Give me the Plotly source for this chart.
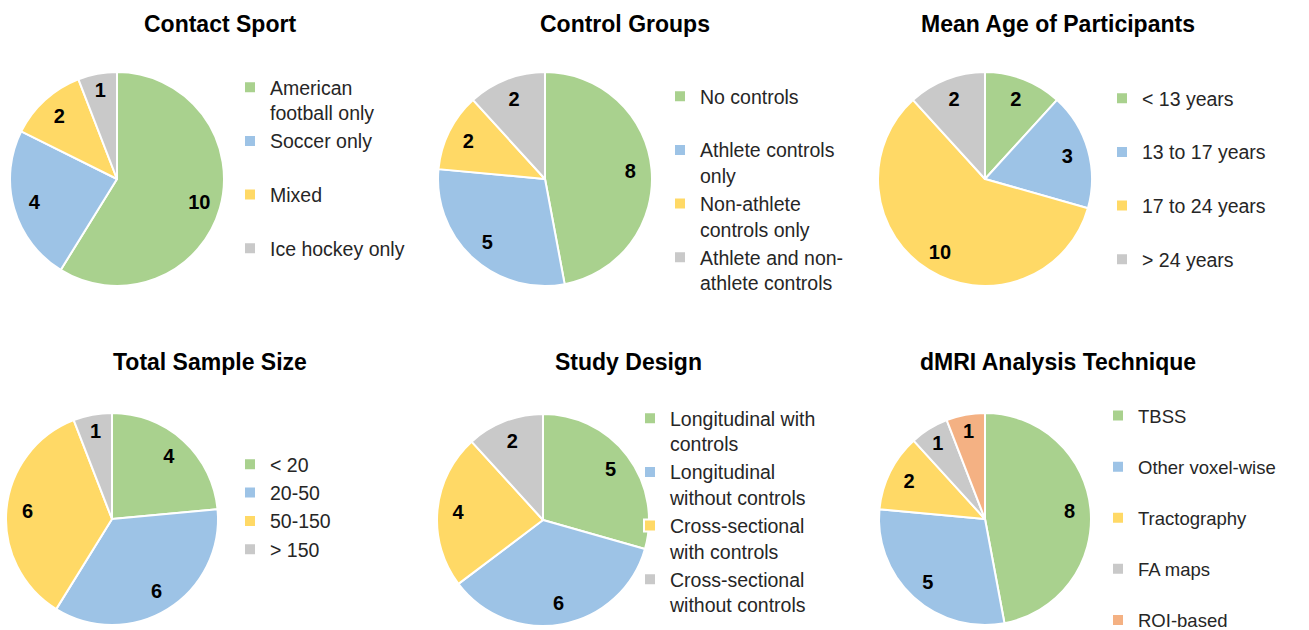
import plotly.graph_objects as go

W, H = 1309, 630

GREEN, BLUE, YELLOW, GRAY, ORANGE = "#A9D18E", "#9DC3E6", "#FFD966", "#C9C9C9", "#F4B183"

# ---- data ----
contact_labels = ["American<br>football only", "Soccer only<br> ", "Mixed<br> ", "Ice hockey only"]
contact_values = [10, 4, 2, 1]

control_labels = ["No controls<br> ", "Athlete controls<br>only", "Non-athlete<br>controls only", "Athlete and non-<br>athlete controls"]
control_values = [8, 5, 2, 2]

age_labels = ["< 13 years<br> ", "13 to 17 years<br> ", "17 to 24 years<br> ", "> 24 years"]
age_values = [2, 3, 10, 2]

sample_labels = ["< 20", "20-50", "50-150", "> 150"]
sample_values = [4, 6, 6, 1]

design_labels = ["Longitudinal with<br>controls", "Longitudinal<br>without controls", "Cross-sectional<br>with controls", "Cross-sectional<br>without controls"]
design_values = [5, 6, 4, 2]

dmri_labels = ["TBSS<br> ", "Other voxel-wise<br> ", "Tractography<br> ", "FA maps<br> ", "ROI-based"]
dmri_values = [8, 5, 2, 1, 1]

titles = ["Contact Sport", "Control Groups", "Mean Age of Participants",
          "Total Sample Size", "Study Design", "dMRI Analysis Technique"]

# ---- layout geometry (pixels) ----
panels = [
    dict(labels=contact_labels, values=contact_values, cx=117, cy=179, r=107,
         colors=[GREEN, BLUE, YELLOW, GRAY], tx=220, ty=24, lx=230, ly=68, fs=19.5),
    dict(labels=control_labels, values=control_values, cx=545, cy=179, r=107,
         colors=[GREEN, BLUE, YELLOW, GRAY], tx=625, ty=24, lx=660, ly=77, fs=19.5),
    dict(labels=age_labels, values=age_values, cx=985, cy=179, r=107,
         colors=[GREEN, BLUE, YELLOW, GRAY], tx=1058, ty=24, lx=1102, ly=79, fs=19.5),
    dict(labels=sample_labels, values=sample_values, cx=112, cy=519, r=106,
         colors=[GREEN, BLUE, YELLOW, GRAY], tx=210, ty=362, lx=230, ly=445, fs=19.5),
    dict(labels=design_labels, values=design_values, cx=543, cy=520, r=106,
         colors=[GREEN, BLUE, YELLOW, GRAY], tx=628, ty=362, lx=630, ly=399, fs=19.5),
    dict(labels=dmri_labels, values=dmri_values, cx=985, cy=519, r=106,
         colors=[GREEN, BLUE, YELLOW, GRAY, ORANGE], tx=1058, ty=362, lx=1098, ly=397, fs=18.5),
]

FONT = "Liberation Sans, Arial, sans-serif"

fig = go.Figure()
layout_legends = {}
annotations = []
for i, p in enumerate(panels):
    lname = "legend" if i == 0 else f"legend{i+1}"
    dom = dict(x=[(p["cx"] - p["r"]) / W, (p["cx"] + p["r"]) / W],
               y=[1 - (p["cy"] + p["r"]) / H, 1 - (p["cy"] - p["r"]) / H])
    # coloured slices
    fig.add_trace(go.Pie(
        labels=p["labels"], values=p["values"],
        sort=False, direction="clockwise", rotation=0,
        marker=dict(colors=p["colors"], line=dict(color="white", width=2)),
        textinfo="none", hoverinfo="label+value",
        domain=dom, legend=lname, showlegend=True,
    ))
    # value labels placed near the outer part of each slice (transparent ring)
    fig.add_trace(go.Pie(
        labels=p["labels"], values=p["values"],
        sort=False, direction="clockwise", rotation=0, hole=0.6,
        marker=dict(colors=["rgba(0,0,0,0)"] * len(p["values"]), line=dict(width=0)),
        texttemplate="<b>%{value}</b>", textposition="inside",
        insidetextorientation="horizontal",
        textfont=dict(family=FONT, size=20, color="black"),
        hoverinfo="skip", domain=dom, showlegend=False,
    ))
    layout_legends[lname] = dict(
        x=p["lx"] / W, y=1 - p["ly"] / H, xanchor="left", yanchor="top",
        font=dict(family=FONT, size=p["fs"], color="#262626"),
        bgcolor="rgba(0,0,0,0)", valign="top", traceorder="normal",
        itemclick=False, itemdoubleclick=False,
    )
    annotations.append(dict(
        text=f"<b>{titles[i]}</b>", x=p["tx"] / W, y=1 - p["ty"] / H,
        xref="paper", yref="paper", xanchor="center", yanchor="middle",
        showarrow=False, font=dict(family=FONT, size=23, color="black"),
    ))

fig.update_layout(
    width=W, height=H, margin=dict(l=0, r=0, t=0, b=0, autoexpand=False),
    paper_bgcolor="white", plot_bgcolor="white",
    annotations=annotations, **layout_legends,
)

fig.write_html("out.html")
